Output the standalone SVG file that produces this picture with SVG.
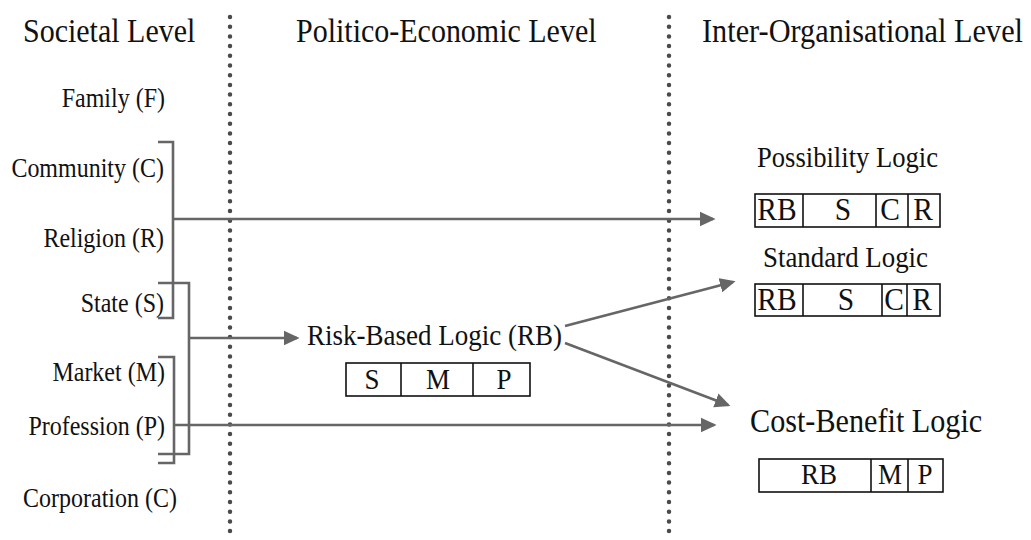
<svg xmlns="http://www.w3.org/2000/svg" width="1031" height="540" viewBox="0 0 1031 540">
<defs>
<style>
text{font-family:"Liberation Serif","Times New Roman",serif;fill:#111}
.h{font-size:30px}
.n{font-size:24px}
.b{font-size:27px;text-anchor:middle}
.bl{font-size:29.5px;text-anchor:middle}
.e{text-anchor:end}
.dot{stroke:#4a4a4a;stroke-width:4.5;stroke-linecap:round;stroke-dasharray:0 9.7;fill:none}
.br{stroke:#666;stroke-width:2.6;fill:none}
.ar{stroke:#666;stroke-width:2.6;fill:none;marker-end:url(#ah)}
.box{stroke:#111;stroke-width:1.6;fill:#fff}
</style>
<marker id="ah" markerWidth="6" markerHeight="6" refX="5" refY="3" orient="auto" markerUnits="strokeWidth" viewBox="0 0 6 6">
<path d="M0,0.2 L6,3 L0,5.8 z" fill="#666"/>
</marker>
</defs>
<rect width="1031" height="540" fill="#fff"/>
<g id="dividers">
<line class="dot" x1="230" y1="17" x2="230" y2="540"/>
<line class="dot" x1="669" y1="17" x2="669" y2="540"/>
</g>
<g id="headers">
<text class="h" transform="translate(23,42) scale(1,1.1)">Societal Level</text>
<text class="h" transform="translate(296,42) scale(1,1.1)">Politico-Economic Level</text>
<text class="h" transform="translate(702,42) scale(1,1.1)" style="font-size:30.3px">Inter-Organisational Level</text>
</g>
<g id="societal">
<text class="n e" transform="translate(165,107) scale(1,1.1)">Family (F)</text>
<text class="n e" transform="translate(164,177) scale(1,1.1)">Community (C)</text>
<text class="n e" transform="translate(164,247) scale(1,1.1)">Religion (R)</text>
<text class="n e" transform="translate(164,312) scale(1,1.1)">State (S)</text>
<text class="n e" transform="translate(165,381) scale(1,1.1)">Market (M)</text>
<text class="n e" transform="translate(165,435) scale(1,1.1)">Profession (P)</text>
<text class="n e" transform="translate(177,507) scale(1,1.1)">Corporation (C)</text>
</g>
<g id="connectors">
<path class="br" d="M158,142 H173 V318 H158"/>
<path class="br" d="M158,283 H189 V454 H158"/>
<path class="br" d="M158,357 H174 V463 H158"/>
<line class="ar" x1="173" y1="219" x2="713" y2="219"/>
<line class="ar" x1="189" y1="338" x2="297" y2="338"/>
<line class="ar" x1="174" y1="425" x2="714" y2="425"/>
<line class="ar" x1="565" y1="326" x2="733" y2="282"/>
<line class="ar" x1="565" y1="343" x2="728" y2="405"/>
</g>
<g id="risk-based">
<text transform="translate(307,345) scale(1,1.1)" style="font-size:27px">Risk-Based Logic (RB)</text>
<rect class="box" x="346" y="363" width="184" height="33"/>
<line class="box" x1="401" y1="363" x2="401" y2="396"/>
<line class="box" x1="473" y1="363" x2="473" y2="396"/>
<text class="b" transform="translate(372,389) scale(1,1.1)">S</text>
<text class="b" transform="translate(438,389) scale(1,1.1)">M</text>
<text class="b" transform="translate(504,389) scale(1,1.1)">P</text>
</g>
<g id="possibility">
<text transform="translate(757,167) scale(1,1.1)" style="font-size:26.6px">Possibility Logic</text>
<rect class="box" x="755" y="194" width="185" height="33"/>
<line class="box" x1="803" y1="194" x2="803" y2="227"/>
<line class="box" x1="876" y1="194" x2="876" y2="227"/>
<line class="box" x1="908" y1="194" x2="908" y2="227"/>
<text class="bl" transform="translate(777,220) scale(1,1.1)">RB</text>
<text class="bl" transform="translate(843,220) scale(1,1.1)">S</text>
<text class="bl" transform="translate(890,220) scale(1,1.1)">C</text>
<text class="bl" transform="translate(923,220) scale(1,1.1)">R</text>
</g>
<g id="standard">
<text transform="translate(763,267) scale(1,1.1)" style="font-size:26.9px">Standard Logic</text>
<rect class="box" x="755" y="284" width="185" height="32"/>
<line class="box" x1="803" y1="284" x2="803" y2="316"/>
<line class="box" x1="882" y1="284" x2="882" y2="316"/>
<line class="box" x1="907" y1="284" x2="907" y2="316"/>
<text class="bl" transform="translate(777,310) scale(1,1.1)">RB</text>
<text class="bl" transform="translate(846,310) scale(1,1.1)">S</text>
<text class="bl" transform="translate(894,310) scale(1,1.1)">C</text>
<text class="bl" transform="translate(922,310) scale(1,1.1)">R</text>
</g>
<g id="cost-benefit">
<text transform="translate(750,432) scale(1,1.1)" style="font-size:30.2px">Cost-Benefit Logic</text>
<rect class="box" x="759" y="459" width="184" height="33"/>
<line class="box" x1="871" y1="459" x2="871" y2="492"/>
<line class="box" x1="908" y1="459" x2="908" y2="492"/>
<text class="b" transform="translate(819,484) scale(1,1.1)">RB</text>
<text class="b" transform="translate(890,484) scale(1,1.1)">M</text>
<text class="b" transform="translate(925,484) scale(1,1.1)">P</text>
</g>
</svg>
